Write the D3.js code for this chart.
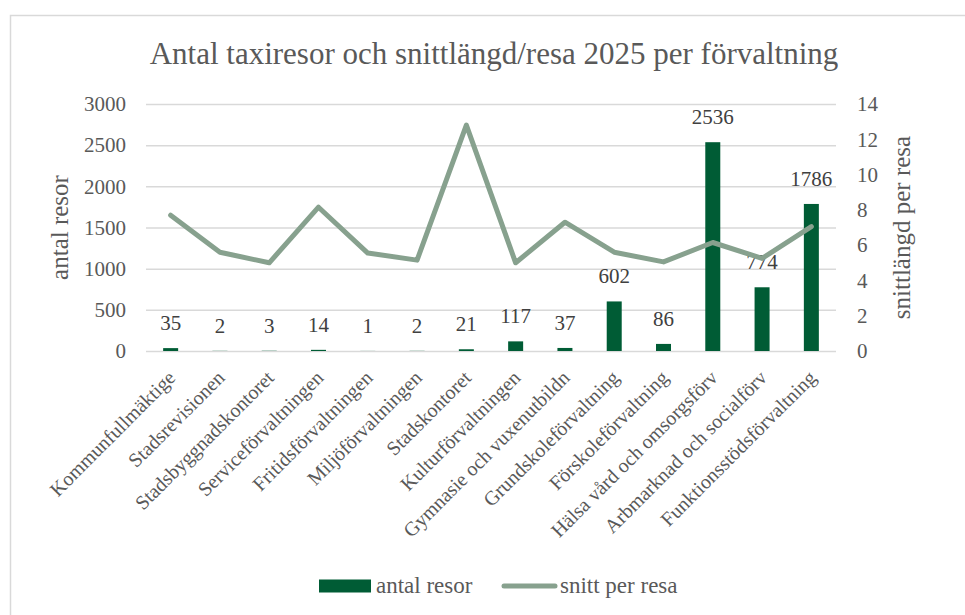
<!DOCTYPE html>
<html>
<head>
<meta charset="utf-8">
<script src="https://cdn.jsdelivr.net/npm/d3@7"></script>
<style>
  body { margin: 0; background: #fff; }
  text { font-family: "Liberation Serif", "DejaVu Serif", serif; fill: #595959; }
</style>
</head>
<body>
<div id="chart"></div>
<script>
// data
var categories = ['Kommunfullmäktige', 'Stadsrevisionen', 'Stadsbyggnadskontoret', 'Serviceförvaltningen',
  'Fritidsförvaltningen', 'Miljöförvaltningen', 'Stadskontoret', 'Kulturförvaltningen',
  'Gymnasie och vuxenutbildn', 'Grundskoleförvaltning', 'Förskoleförvaltning',
  'Hälsa vård och omsorgsförv', 'Arbmarknad och socialförv', 'Funktionsstödsförvaltning'];
var antalResor = [35, 2, 3, 14, 1, 2, 21, 117, 37, 602, 86, 2536, 774, 1786];
var snittPerResa = [7.7, 5.6, 5.0, 8.15, 5.55, 5.15, 12.8, 5.0, 7.3, 5.6, 5.05, 6.15, 5.25, 7.05];
var leftTicks = [0, 500, 1000, 1500, 2000, 2500, 3000];
var rightTicks = [0, 2, 4, 6, 8, 10, 12, 14];

var W = 965, H = 615;
// plot area (window.top is read-only, so no "top" here)
var pLeft = 146, pRight = 836, pTop = 104, pBottom = 351;
var barColor = '#005c35', lineColor = '#87a18e';

var svg = d3.select('#chart').append('svg')
  .attr('width', W)
  .attr('height', H);

// chart frame (runs off the right/bottom of the shot)
svg.append('rect')
  .attr('x', 10.5).attr('y', 15.5)
  .attr('width', 1000).attr('height', 700)
  .attr('fill', 'none')
  .attr('stroke', '#d9d9d9')
  .attr('stroke-width', 1.5);

var x = d3.scaleBand().domain(categories).range([pLeft, pRight]);
var yL = d3.scaleLinear().domain([0, 3000]).range([pBottom, pTop]);
var yR = d3.scaleLinear().domain([0, 14]).range([pBottom, pTop]);

// gridlines
svg.append('g')
  .attr('transform', 'translate(' + pLeft + ',0)')
  .call(d3.axisLeft(yL).tickValues(leftTicks).tickSize(-(pRight - pLeft)).tickFormat(''))
  .call(g => g.select('.domain').remove())
  .selectAll('line').attr('stroke', '#d9d9d9').attr('stroke-width', 1.5);

// left axis labels
svg.append('g')
  .attr('transform', 'translate(' + pLeft + ',0)')
  .call(d3.axisLeft(yL).tickValues(leftTicks).tickFormat(d3.format('d')).tickSize(0).tickPadding(20))
  .call(g => g.select('.domain').remove())
  .attr('font-family', null)
  .selectAll('text')
    .style('font-size', '21px')
    .attr('fill', '#595959');

// right axis labels
svg.append('g')
  .attr('transform', 'translate(' + pRight + ',0)')
  .call(d3.axisRight(yR).tickValues(rightTicks).tickFormat(d3.format('d')).tickSize(0).tickPadding(21))
  .call(g => g.select('.domain').remove())
  .attr('font-family', null)
  .selectAll('text')
    .style('font-size', '21px')
    .attr('fill', '#595959');

// x axis labels
svg.append('g')
  .attr('transform', 'translate(0,' + pBottom + ')')
  .call(d3.axisBottom(x).tickSize(0).tickPadding(0))
  .call(g => g.select('.domain').remove())
  .attr('font-family', null)
  .selectAll('text')
    .style('font-size', '20px')
    .attr('fill', '#595959')
    .attr('text-anchor', 'end')
    .attr('dy', null)
    .attr('transform', 'translate(6,28) rotate(-45)');

// bars
var bw = 15;
svg.selectAll('.bar')
  .data(antalResor).enter()
  .append('rect')
    .attr('class', 'bar')
    .attr('x', (d, i) => x(categories[i]) + x.bandwidth() / 2 - bw / 2)
    .attr('y', d => yL(d))
    .attr('width', bw)
    .attr('height', d => pBottom - yL(d))
    .attr('fill', barColor);

// bar value labels
svg.selectAll('.blabel')
  .data(antalResor).enter()
  .append('text')
    .attr('class', 'blabel')
    .attr('x', (d, i) => x(categories[i]) + x.bandwidth() / 2)
    .attr('y', d => yL(d) - 18)
    .attr('text-anchor', 'middle')
    .style('font-size', '21px')
    .style('fill', '#404040')
    .text(d => d);

// line
var line = d3.line()
  .x((d, i) => x(categories[i]) + x.bandwidth() / 2)
  .y(d => yR(d));
svg.append('path')
  .datum(snittPerResa)
  .attr('d', line)
  .attr('fill', 'none')
  .attr('stroke', lineColor)
  .attr('stroke-width', 5)
  .attr('stroke-linejoin', 'round')
  .attr('stroke-linecap', 'round');

// title
svg.append('text')
  .attr('x', 494)
  .attr('y', 64)
  .attr('text-anchor', 'middle')
  .style('font-size', '31px')
  .text('Antal taxiresor och snittlängd/resa 2025 per förvaltning');

// axis titles
svg.append('text')
  .attr('transform', 'translate(68,' + (pTop + pBottom) / 2 + ') rotate(-90)')
  .attr('text-anchor', 'middle')
  .style('font-size', '25px')
  .text('antal resor');

svg.append('text')
  .attr('transform', 'translate(910,' + (pTop + pBottom) / 2 + ') rotate(-90)')
  .attr('text-anchor', 'middle')
  .style('font-size', '25px')
  .text('snittlängd per resa');

// legend
var lg = svg.append('g').attr('transform', 'translate(319,586)');
lg.append('rect')
  .attr('x', 0).attr('y', -6.5)
  .attr('width', 52).attr('height', 13)
  .attr('fill', barColor);
lg.append('text')
  .attr('x', 57).attr('y', 7)
  .style('font-size', '23px')
  .text('antal resor');
lg.append('line')
  .attr('x1', 185).attr('x2', 236)
  .attr('y1', 0).attr('y2', 0)
  .attr('stroke', lineColor)
  .attr('stroke-width', 5)
  .attr('stroke-linecap', 'round');
lg.append('text')
  .attr('x', 241).attr('y', 7)
  .style('font-size', '23px')
  .text('snitt per resa');
</script>
</body>
</html>
